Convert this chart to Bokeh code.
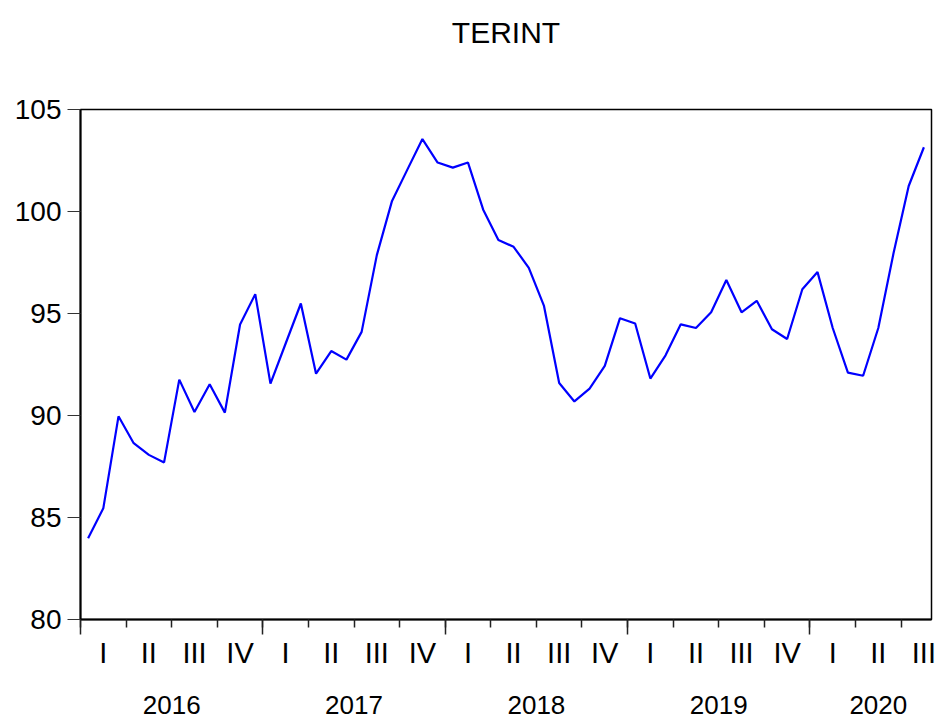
from bokeh.plotting import figure
from bokeh.models import Range1d, FixedTicker, LinearAxis, Title, CustomLabelingPolicy
from bokeh.embed import file_html
from bokeh.resources import INLINE

# ---- data ----
title_text = "TERINT"
years = ["2016", "2017", "2018", "2019", "2020"]
quarter_names = ["I", "II", "III", "IV"]
y_ticks = [80, 85, 90, 95, 100, 105]
# monthly values, Jan 2016 .. Aug 2020
terint = [
    83.98, 85.45, 89.96, 88.64, 88.07, 87.70, 91.76, 90.17, 91.53, 90.14, 94.46, 95.95,
    91.56, 93.53, 95.49, 92.05, 93.16, 92.74, 94.10, 97.86, 100.52, 102.04, 103.55, 102.40,
    102.15, 102.40, 100.09, 98.60, 98.27, 97.24, 95.37, 91.59, 90.69, 91.32, 92.43, 94.77,
    94.51, 91.81, 92.95, 94.47, 94.29, 95.06, 96.64, 95.06, 95.62, 94.23, 93.75, 96.19,
    97.03, 94.29, 92.10, 91.95, 94.29, 97.95, 101.25, 103.15,
]
n_quarters_2020 = 3

FONT = "Liberation Sans"

n = len(terint)
xs = [i + 0.5 for i in range(n)]

p = figure(width=938, height=719, output_backend="svg", toolbar_location=None,
           x_range=Range1d(0, n), y_range=Range1d(y_ticks[0], y_ticks[-1]),
           min_border_left=80, min_border_right=7, min_border_top=109,
           min_border_bottom=100, title_location=None)
p.background_fill_color = "white"
p.border_fill_color = "white"
p.outline_line_color = "black"
p.outline_line_width = 1.5
p.xgrid.visible = False
p.ygrid.visible = False

p.line(xs, terint, line_color="#0000FF", line_width=2.2)

# y axis
ya = p.yaxis[0]
ya.ticker = FixedTicker(ticks=y_ticks, minor_ticks=[])
ya.axis_line_color = "black"
ya.axis_line_width = 2
ya.major_tick_out = 13
ya.major_tick_in = 0
ya.minor_tick_out = 0
ya.minor_tick_in = 0
ya.major_tick_line_color = "#333333"
ya.major_tick_line_width = 1
ya.major_label_standoff = 6
ya.major_label_text_font = FONT
ya.major_label_text_font_size = "28px"
ya.major_label_text_color = "black"

# x axis: tick marks at quarter / year boundaries (no labels)
year_bounds = [12.0 * k for k in range(len(years))]
quarter_bounds = [3.0 * k for k in range((len(years) - 1) * 4 + n_quarters_2020)]
xa = p.xaxis[0]
xa.ticker = FixedTicker(ticks=year_bounds, minor_ticks=quarter_bounds)
xa.axis_line_color = "black"
xa.axis_line_width = 2
xa.major_tick_out = 15
xa.major_tick_in = 0
xa.minor_tick_out = 8
xa.minor_tick_in = 0
xa.major_tick_line_color = "#222222"
xa.minor_tick_line_color = "#222222"
xa.major_tick_line_width = 1.5
xa.minor_tick_line_width = 1.5
xa.major_label_text_font_size = "1px"
xa.major_label_standoff = 0
xa.major_label_policy = CustomLabelingPolicy(code="return new Set()")

# quarter labels
q_centers = [q + 1.5 for q in quarter_bounds]
q_labels = {c: quarter_names[k % 4] for k, c in enumerate(q_centers)}
qa = LinearAxis(ticker=FixedTicker(ticks=q_centers, minor_ticks=[]),
                major_label_overrides=q_labels,
                axis_line_color=None, major_tick_line_color=None,
                minor_tick_line_color=None, major_tick_out=0, major_tick_in=0,
                major_label_standoff=-2,
                major_label_text_font=FONT, major_label_text_font_size="29px",
                major_label_text_color="black")
p.add_layout(qa, "below")

# year labels
y_centers = [12.0 * k + 6.0 for k in range(len(years) - 1)] + [48.0 + n_quarters_2020 * 1.5]
y_labels = {c: years[k] for k, c in enumerate(y_centers)}
yra = LinearAxis(ticker=FixedTicker(ticks=y_centers, minor_ticks=[]),
                 major_label_overrides=y_labels,
                 axis_line_color=None, major_tick_line_color=None,
                 minor_tick_line_color=None, major_tick_out=0, major_tick_in=0,
                 major_label_standoff=24,
                 major_label_text_font=FONT, major_label_text_font_size="26px",
                 major_label_text_color="black")
p.add_layout(yra, "below")

# titles: spacer first (closest to frame), main title further out
p.add_layout(Title(text=" ", text_font_size="53px", standoff=0), "above")
p.add_layout(Title(text=title_text, align="center", text_font=FONT,
                   text_font_size="30px", text_font_style="normal",
                   text_color="black", standoff=0), "above")

open("out.html", "w").write(file_html(p, INLINE))
